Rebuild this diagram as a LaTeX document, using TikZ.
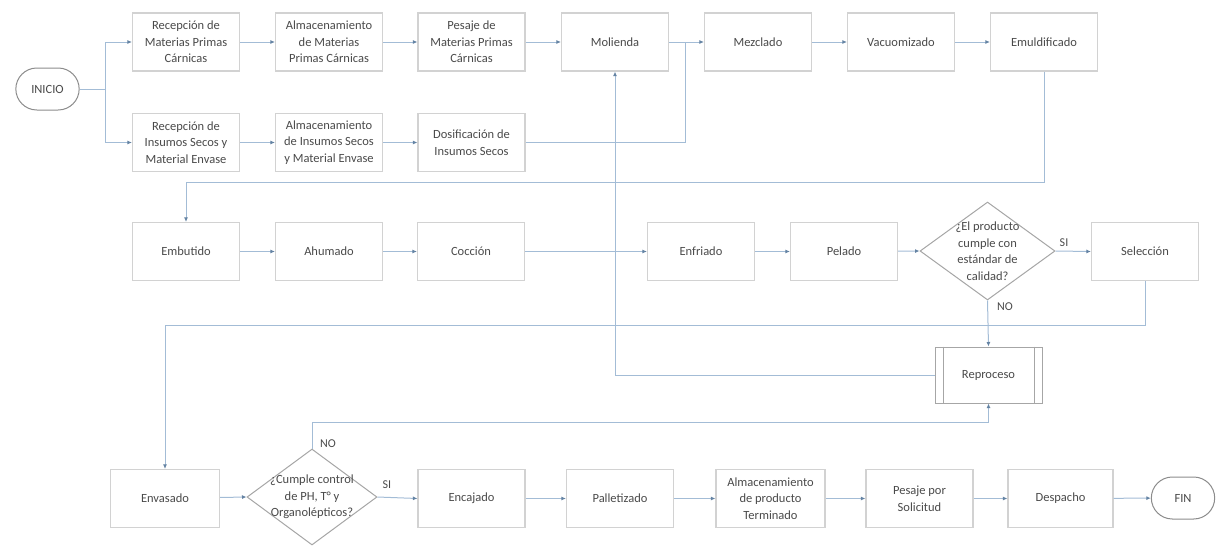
\documentclass[tikz,border=0pt]{standalone}
\usepackage{fontspec}
\setmainfont{Carlito}
\usetikzlibrary{shapes.geometric,shapes.misc,arrows.meta}
\definecolor{linec}{HTML}{A3BCD6}
\definecolor{tipc}{HTML}{6483A3}
\definecolor{boxc}{HTML}{D2D2D2}
\definecolor{txtc}{HTML}{4A4A4A}
\tikzset{
  every node/.style={font=\fontsize{12.5}{16.5}\selectfont, text=txtc},
  stepbox/.style={rectangle, draw=boxc, line width=1.2pt, fill=white,
    minimum width=107pt, minimum height=58pt, align=center, inner sep=2pt},
  term/.style={rounded rectangle, draw=black!45, line width=1pt, fill=white,
    minimum width=70pt, minimum height=42pt},
  decision/.style={diamond, draw=black!35, line width=1pt, fill=white, inner sep=0pt},
  lbl/.style={font=\fontsize{12}{14}\selectfont, text=txtc, inner sep=1pt},
  conn/.style={draw=linec, line width=1pt},
  arr/.style={conn, -{Latex[length=4.5pt,width=4pt,color=tipc]}},
}
\begin{document}
\begin{tikzpicture}[x=1pt,y=-1pt]
\useasboundingbox (0,0) rectangle (1220,546);

% start and first row
\node[term] (inicio) at (47.5,89) {INICIO};
\node[stepbox] (rmp) at (186,42)   {Recepción de\\Materias Primas\\Cárnicas};
\node[stepbox] (amp) at (329,42)   {Almacenamiento\\de Materias\\Primas Cárnicas};
\node[stepbox] (pmp) at (471.5,42) {Pesaje de\\Materias Primas\\Cárnicas};
\node[stepbox] (mol) at (615,42)   {Molienda};
\node[stepbox] (mez) at (758,42)   {Mezclado};
\node[stepbox] (vac) at (901,42)   {Vacuomizado};
\node[stepbox] (emu) at (1044,42)  {Emuldificado};

% dry inputs row
\node[stepbox] (ris) at (186,142.5)   {Recepción de\\Insumos Secos y\\Material Envase};
\node[stepbox] (ais) at (329,142.5)   {Almacenamiento\\de Insumos Secos\\y Material Envase};
\node[stepbox] (dis) at (471.5,142.5) {Dosificación de\\Insumos Secos};

% processing row
\node[stepbox] (emb) at (186,251.5) {Embutido};
\node[stepbox] (ahu) at (329,251.5) {Ahumado};
\node[stepbox] (coc) at (471,251.5) {Cocción};
\node[stepbox] (enf) at (701,251.5) {Enfriado};
\node[stepbox] (pel) at (844,251.5) {Pelado};
\node[decision, minimum width=135pt, minimum height=98pt] (dec1) at (987.5,251) {};
\node[align=center] (dec1t) at (dec1.center) {¿El producto\\cumple con\\estándar de\\calidad?};
\node[stepbox] (sel) at (1145,251.5) {Selección};

% rework: predefined-process box with inner side bars
\node[stepbox, draw=black!35, line width=1pt, minimum height=56pt] (rep) at (988.5,375) {Reproceso};
\draw[draw=black!35, line width=1pt] ([xshift=8.5pt]rep.north west) -- ([xshift=8.5pt]rep.south west);
\draw[draw=black!35, line width=1pt] ([xshift=-8.5pt]rep.north east) -- ([xshift=-8.5pt]rep.south east);

% packing row
\node[stepbox, minimum width=109pt] (env) at (165,498.5) {Envasado};
\node[decision, minimum width=130pt, minimum height=96pt] (dec2) at (312,497) {};
\node[align=center] (dec2t) at (dec2.center) {¿Cumple control\\de PH, T° y\\Organolépticos?};
\node[stepbox] (enc) at (471.5,498.5) {Encajado};
\node[stepbox] (pal) at (620,498.5)   {Palletizado};
\node[stepbox, minimum width=109pt] (alm) at (770.5,498.5) {Almacenamiento\\de producto\\Terminado};
\node[stepbox] (pes) at (919.5,498.5) {Pesaje por\\Solicitud};
\node[stepbox, minimum width=105pt] (des) at (1060.5,498.5) {Despacho};
\node[term] (fin) at (1183,498) {FIN};

% routing points
\coordinate (j0) at (105,89);
\coordinate (j1) at (685,42);
\coordinate (k1) at (186,182);
\coordinate (k2) at (165,325);
\coordinate (k3) at (988.5,422);

% connectors, first rows
\draw[conn] (inicio.east) -- (j0);
\draw[arr] (j0) |- (rmp.west);
\draw[arr] (j0) |- (ris.west);
\draw[arr] (rmp) -- (amp);
\draw[arr] (amp) -- (pmp);
\draw[arr] (pmp) -- (mol);
\draw[arr] (ris) -- (ais);
\draw[arr] (ais) -- (dis);
\draw[conn] (mol.east) -- (j1);
\draw[conn] (dis.east) -| (j1);
\draw[arr] (j1) -- (mez.west);
\draw[arr] (mez) -- (vac);
\draw[arr] (vac) -- (emu);
\draw[arr] (emu.south) |- (k1) -- (emb.north);

% connectors, processing row
\draw[arr] (emb) -- (ahu);
\draw[arr] (ahu) -- (coc);
\draw[arr] (coc) -- (enf);
\draw[arr] (enf) -- (pel);
\draw[arr] (pel) -- (dec1.west);
\draw[arr] (dec1.east) -- (sel.west);
\draw[arr] (dec1.south) -- (rep.north);
\draw[arr] (rep.west) -| (mol.south);
\draw[arr] (sel.south) |- (k2) -- (env.north);

% connectors, packing row
\draw[arr] (env) -- (dec2.west);
\draw[arr] (dec2.east) -- (enc.west);
\draw[arr] (dec2.north) |- (k3) -- (rep.south);
\draw[arr] (enc) -- (pal);
\draw[arr] (pal) -- (alm);
\draw[arr] (alm) -- (pes);
\draw[arr] (pes) -- (des);
\draw[arr] (des) -- (fin);

% branch labels
\node[lbl] (si1) at (1064,243) {SI};
\node[lbl] (no1) at (1005,307) {NO};
\node[lbl] (no2) at (328,444)  {NO};
\node[lbl] (si2) at (387,485)  {SI};
\end{tikzpicture}
\end{document}
